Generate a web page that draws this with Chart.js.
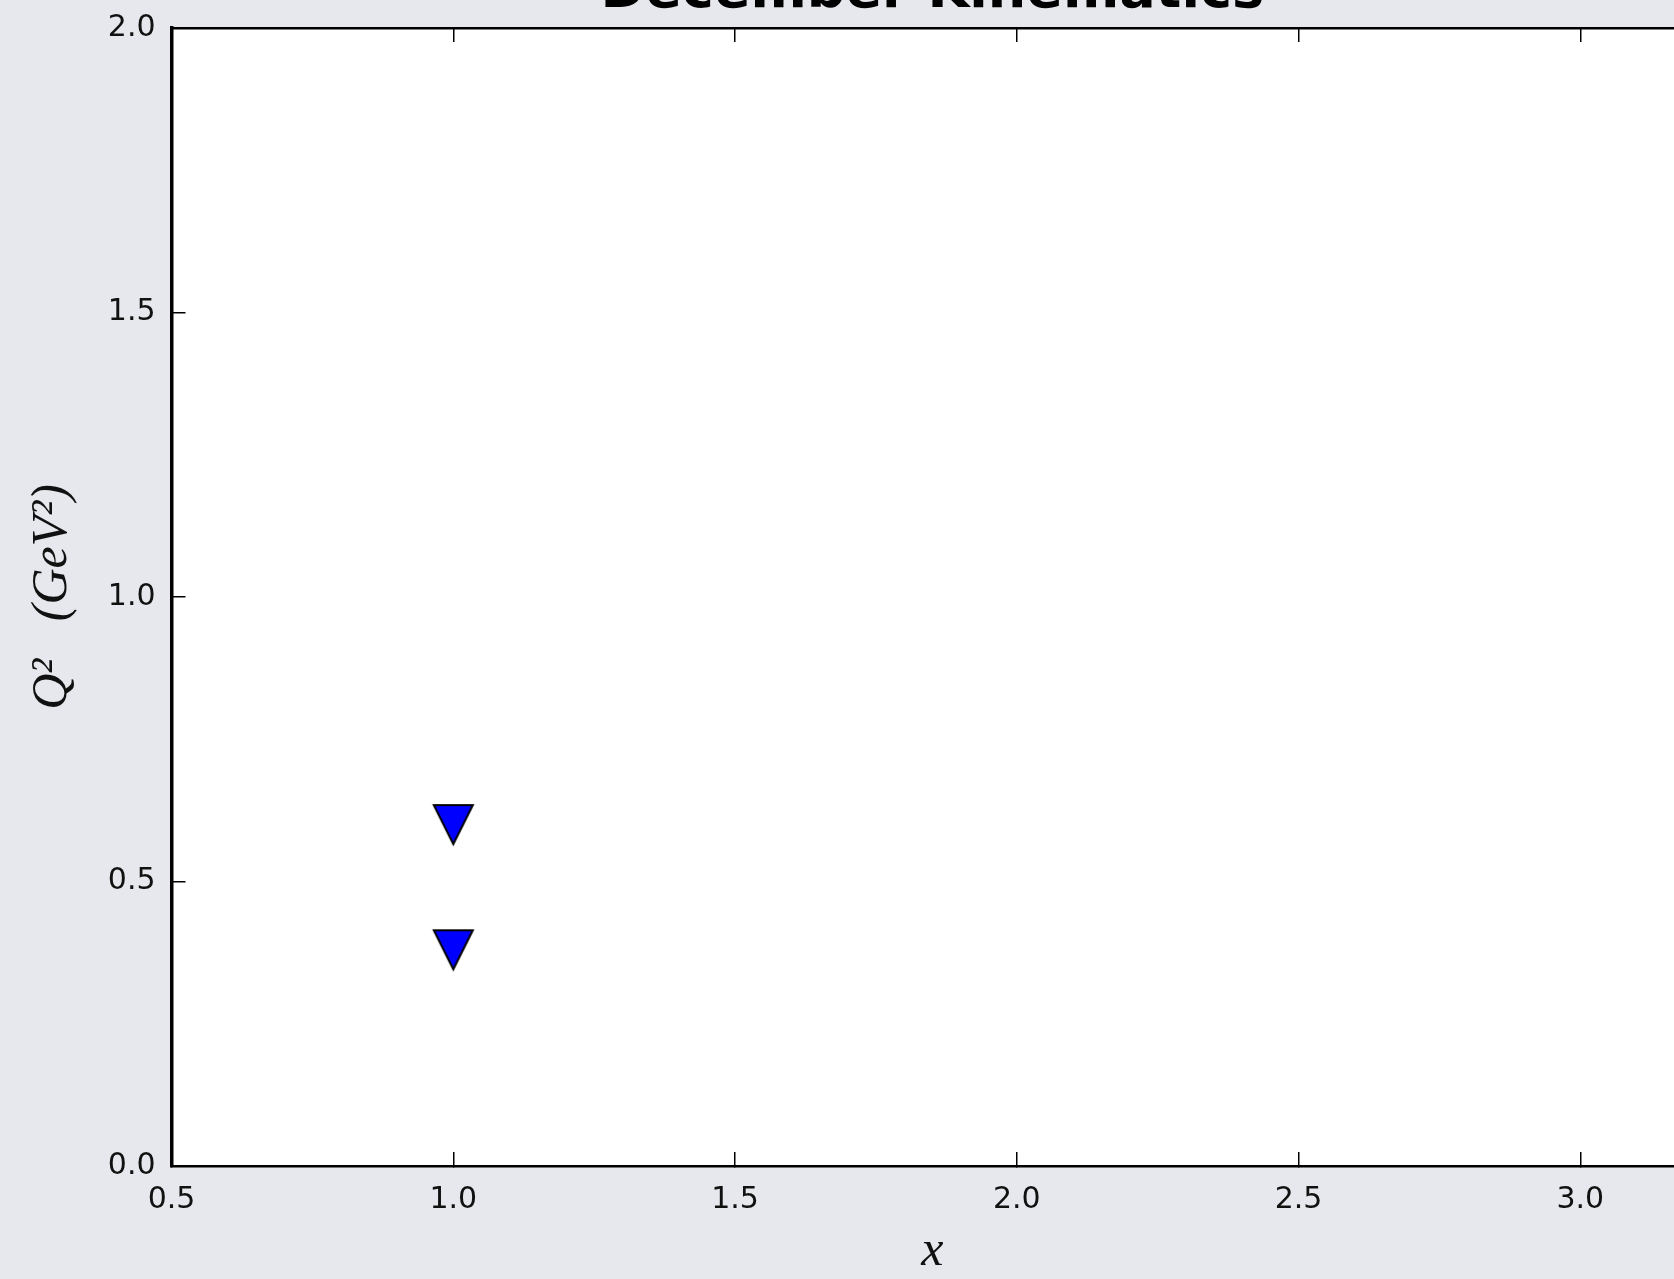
<!DOCTYPE html>
<html>
<head>
<meta charset="utf-8">
<script src="https://cdn.jsdelivr.net/npm/chart.js@4/dist/chart.umd.min.js"></script>
<style>
  html, body { margin: 0; padding: 0; width: 1674px; height: 1279px; overflow: hidden; background: #e7e8ed; }
  #wrap { position: absolute; left: 0; top: -60px; width: 1760px; height: 1339px; }
</style>
</head>
<body>
<div id="wrap"><canvas id="c" width="1760" height="1339"></canvas></div>
<script>
// Kinematic points: Bjorken x versus Q^2
const chartTitle = 'December Kinematics';
const xValues = [1.0, 1.0];
const q2Values = [0.6, 0.38];
const xTickValues = [0.5, 1.0, 1.5, 2.0, 2.5, 3.0];
const yTickValues = [0.0, 0.5, 1.0, 1.5, 2.0];
const xRange = [0.5, 3.2];
const yRange = [0.0, 2.0];

// Downward triangle marker, centred on its bounding box
function downTriangle(size, edge) {
  const pad = Math.ceil(edge) + 1;
  const c = document.createElement('canvas');
  c.width = size + 2 * pad;
  c.height = size + 2 * pad;
  const g = c.getContext('2d');
  g.beginPath();
  g.moveTo(pad, pad);
  g.lineTo(pad + size, pad);
  g.lineTo(pad + size / 2, pad + size);
  g.closePath();
  g.fillStyle = '#0000ff';
  g.fill();
  g.lineWidth = edge;
  g.strokeStyle = '#000000';
  g.stroke();
  return c;
}

// White plotting area on the grey figure
const plotBackground = {
  id: 'plotBackground',
  beforeDraw(chart) {
    const { ctx, chartArea: a } = chart;
    ctx.save();
    ctx.fillStyle = '#ffffff';
    ctx.fillRect(a.left, a.top, a.right - a.left, a.bottom - a.top);
    ctx.restore();
  }
};

const tickFont = { family: 'DejaVu Sans', size: 30 };
const tickGrid = { drawOnChartArea: false, drawTicks: true, tickLength: -14, color: '#000', lineWidth: 1.5 };
const fmt = v => Number(v).toFixed(1);

const points = xValues.map((x, i) => ({ x: x, y: q2Values[i] }));

new Chart(document.getElementById('c'), {
  type: 'scatter',
  data: {
    datasets: [{
      data: points,
      pointStyle: downTriangle(39, 2),
      pointRadius: 20,
      pointHoverRadius: 20
    }]
  },
  plugins: [plotBackground],
  options: {
    responsive: false,
    devicePixelRatio: 1,
    animation: false,
    layout: { padding: { left: 0, right: 67, top: 0, bottom: 0 } },
    plugins: {
      legend: { display: false },
      tooltip: { enabled: false },
      title: {
        display: true,
        text: chartTitle,
        fullSize: false,
        color: '#000',
        font: { family: 'DejaVu Sans', weight: 'bold', size: 54, lineHeight: 1 },
        padding: { top: 25.5, bottom: 8.5 }
      }
    },
    scales: {
      x: {
        type: 'linear',
        position: 'bottom',
        min: xRange[0],
        max: xRange[1],
        afterBuildTicks: s => { s.ticks = xTickValues.map(v => ({ value: v })); },
        afterFit: s => { s.height = 113; },
        ticks: { callback: fmt, font: tickFont, color: '#111', padding: 30, maxRotation: 0, autoSkip: false },
        grid: tickGrid,
        border: { display: true, color: '#000', width: 2.5 },
        title: {
          display: true,
          text: 'x',
          color: '#111',
          font: { family: 'Liberation Serif', style: 'italic', size: 50, lineHeight: 1 },
          padding: { top: 0, bottom: 2 }
        }
      },
      x2: {
        type: 'linear',
        position: 'top',
        min: xRange[0],
        max: xRange[1],
        afterBuildTicks: s => { s.ticks = xTickValues.map(v => ({ value: v })); },
        afterFit: s => { s.height = 0; },
        ticks: { display: false },
        grid: tickGrid,
        border: { display: true, color: '#000', width: 2.5 }
      },
      y: {
        type: 'linear',
        position: 'left',
        min: yRange[0],
        max: yRange[1],
        afterBuildTicks: s => { s.ticks = yTickValues.map(v => ({ value: v })); },
        afterFit: s => { s.width = 171.5; },
        ticks: { callback: fmt, font: tickFont, color: '#111', padding: 30, autoSkip: false },
        grid: tickGrid,
        border: { display: true, color: '#000', width: 3.5 },
        title: {
          display: true,
          text: 'Q² \u2002(GeV²)',
          color: '#111',
          font: { family: 'Liberation Serif', style: 'italic', size: 50, lineHeight: 1 },
          padding: { top: 28, bottom: 0 }
        }
      }
    }
  }
});
</script>
</body>
</html>
